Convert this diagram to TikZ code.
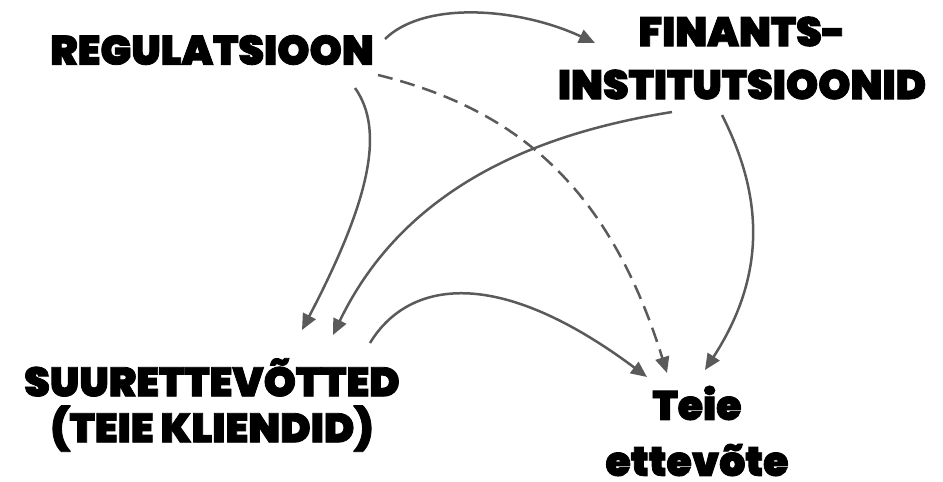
\documentclass[tikz,border=0pt]{standalone}
\usepackage{fontspec}
\setmainfont{Poppins}[UprightFont=* Black, FakeBold=2]
\usetikzlibrary{arrows.meta}
\definecolor{lin}{HTML}{5A5A5A}
\begin{document}
\begin{tikzpicture}[x=1pt,y=-1pt,
  lbl/.style={font=\fontsize{41}{53}\selectfont, align=center, inner sep=0pt},
  conn/.style={draw=lin, line width=2.5pt, -{Triangle[length=16pt,width=14pt]}},
  dsh/.style={conn, dash pattern=on 15pt off 8pt}]
\path[use as bounding box] (0,0) rectangle (943,482);
\node[lbl] (reg) at (212,50) {REGULATSIOON};
\node[lbl] (fin) at (742,58) {FINANTS-\\INSTITUTSIOONID};
\node[lbl, font=\fontsize{41}{46}\selectfont] (suur) at (212,405) {SUURETTEVÕTTED\\(TEIE KLIENDID)};
\node[lbl, font=\fontsize{41}{56}\selectfont] (teie) at (697,431) {Teie\\ettevõte};
\draw[conn] ([shift={(173,-11)}]reg.center) .. controls (425,0) and (520,8) .. ([shift={(-147,-15)}]fin.center);
\draw[dsh] ([shift={(166,25)}]reg.center) .. controls (520,110) and (610,190) .. ([shift={(-30,-58)}]teie.center);
\draw[conn] ([shift={(143,38)}]reg.center) .. controls (385,130) and (370,200) .. ([shift={(90,-75)}]suur.center);
\draw[conn] ([shift={(-70,54)}]fin.center) .. controls (560,130) and (410,175) .. ([shift={(121,-70)}]suur.center);
\draw[conn] ([shift={(-20,57)}]fin.center) .. controls (760,190) and (770,270) .. ([shift={(8,-61)}]teie.center);
\draw[conn] ([shift={(158,-62)}]suur.center) .. controls (405,285) and (490,260) .. ([shift={(-50,-54)}]teie.center);
\end{tikzpicture}
\end{document}
